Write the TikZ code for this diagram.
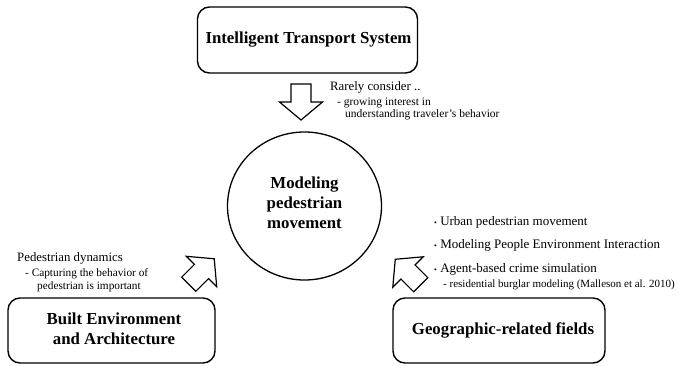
\documentclass[tikz,border=0pt]{standalone}
\usepackage{fontspec}
\setmainfont{Liberation Serif}
\begin{document}
\begin{tikzpicture}[x=1pt,y=-1pt,
  field/.style={draw, line width=1.4pt, rounded corners=12pt, align=center,
    font=\fontsize{16.8}{20}\selectfont\bfseries, inner sep=0pt},
  hub/.style={draw, line width=1.3pt, ellipse, align=center,
    font=\fontsize{16.8}{20}\selectfont\bfseries},
  note/.style={anchor=west, inner sep=0pt, align=left},
  blockarrow/.style={draw, line width=1.2pt, fill=white, line join=miter}]
\useasboundingbox (0,0) rectangle (678,365);

% central topic
\draw[line width=1.3pt] (304.5,206) ellipse [x radius=77, y radius=74];
\node[align=center, font=\fontsize{16.8}{20}\selectfont\bfseries] (hub) at (304.5,203)
  {Modeling\\pedestrian\\movement};

% three contributing fields
\node[field, minimum width=220pt, minimum height=66pt] (its) at (307.5,40) {};
\node[font=\fontsize{16.8}{20}\selectfont\bfseries] (itsT) at (308.5,40) {Intelligent Transport System};
\node[field, minimum width=207pt, minimum height=65pt] (bea) at (111.5,330.5) {};
\node[align=center, font=\fontsize{16.8}{20}\selectfont\bfseries] (beaT) at (114,328.5)
  {Built Environment\\and Architecture};
\node[field, minimum width=212pt, minimum height=65pt] (geo) at (499,330.5) {};
\node[font=\fontsize{16.8}{20}\selectfont\bfseries] (geoT) at (503,330) {Geographic-related fields};

% block arrows pointing at the central topic
\def\blockpath{(-18,-10) -- (0,-10) -- (0,-21.5) -- (18,0) -- (0,21.5) -- (0,10) -- (-18,10) -- cycle}
\begin{scope}[shift={(301,102)}, rotate=-90]
  \draw[blockarrow] \blockpath;
\end{scope}
\begin{scope}[shift={(201.5,271.5)}, rotate=45]
  \draw[blockarrow] \blockpath;
\end{scope}
\begin{scope}[shift={(408,272)}, rotate=135]
  \draw[blockarrow] \blockpath;
\end{scope}

% notes on the transport side
\node[note, font=\fontsize{12.8}{14}\selectfont] (n1) at (330,87) {Rarely consider ..};
\node[note, font=\fontsize{11.5}{12.5}\selectfont] (n2) at (337,102.5) {- growing interest in};
\node[note, font=\fontsize{11.5}{12.5}\selectfont] (n3) at (345,114.5) {understanding traveler's behavior};

% notes on the architecture side
\node[note, font=\fontsize{12.8}{14}\selectfont] (b1) at (17,258) {Pedestrian dynamics};
\node[note, font=\fontsize{11.3}{12.5}\selectfont] (b2) at (25,274) {- Capturing the behavior of};
\node[note, font=\fontsize{11.3}{12.5}\selectfont] (b3) at (37,286.5) {pedestrian is important};

% notes on the geography side
\node[note, font=\fontsize{13}{15}\selectfont] (g1) at (434,222) {{\fontsize{8}{8}\selectfont\textbullet}\ Urban pedestrian movement};
\node[note, font=\fontsize{13}{15}\selectfont] (g2) at (434,245) {{\fontsize{8}{8}\selectfont\textbullet}\ Modeling People Environment Interaction};
\node[note, font=\fontsize{13}{15}\selectfont] (g3) at (434,269.5) {{\fontsize{8}{8}\selectfont\textbullet}\ Agent-based crime simulation};
\node[note, font=\fontsize{11}{12}\selectfont] (g4) at (443,285) {- residential burglar modeling (Malleson et al. 2010)};
\end{tikzpicture}
\end{document}
